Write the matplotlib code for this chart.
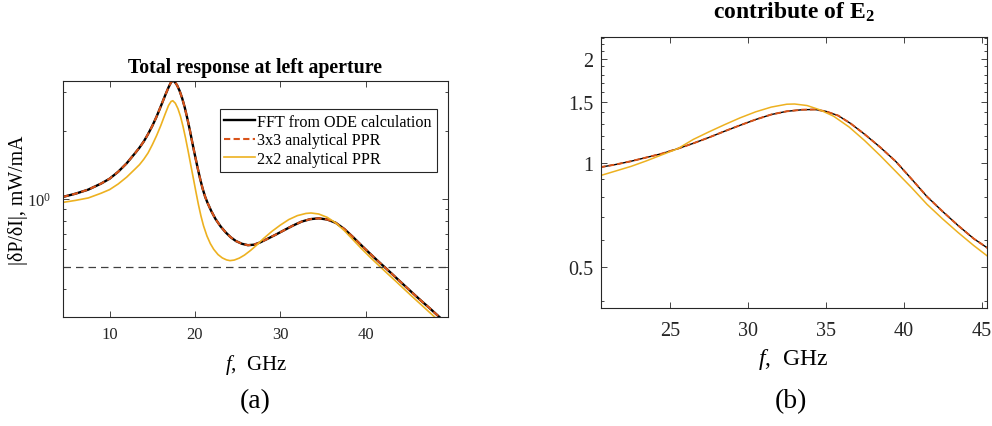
import numpy as np
import matplotlib
matplotlib.use('Agg')
from matplotlib import pyplot as plt
from matplotlib import ticker

plt.rcParams['font.family'] = ['Liberation Serif', 'DejaVu Serif']
plt.rcParams['mathtext.fontset'] = 'custom'
plt.rcParams['mathtext.rm'] = 'Liberation Serif'
plt.rcParams['mathtext.it'] = 'Liberation Serif:italic'
plt.rcParams['mathtext.bf'] = 'Liberation Serif:bold'

# panel (a): total response at left aperture
f_left = [4.5, 6, 7.5, 9, 10, 11, 12, 13, 13.5, 14,
          14.5, 15, 15.5, 16, 16.5, 16.9, 17.2, 17.4, 17.6, 17.9,
          18.2, 18.5, 18.8, 19.1, 19.4, 19.7, 20.0, 20.3, 20.6, 20.9,
          21.2, 21.5, 21.9, 22.4, 23.0, 23.6, 24.2, 24.8, 25.5, 26.2,
          26.9, 27.6, 28.5, 29.5, 30.5, 31.5, 32.5, 33.5, 34.5, 35.5,
          36.5, 37.5, 38.5, 39.5, 40.5, 41.5, 42.5, 43.5, 44.5, 45.5,
          46.5, 47.5, 48.5, 49.6]
fft_left = [1.02, 1.055, 1.1, 1.17, 1.23, 1.32, 1.44, 1.6, 1.69, 1.8,
            1.94, 2.11, 2.32, 2.58, 2.88, 3.13, 3.3, 3.35, 3.32, 3.2,
            3.02, 2.8, 2.55, 2.28, 2.02, 1.77, 1.56, 1.38, 1.23, 1.11,
            1.02, 0.955, 0.885, 0.815, 0.755, 0.71, 0.675, 0.65, 0.632, 0.623,
            0.626, 0.64, 0.665, 0.695, 0.728, 0.762, 0.793, 0.813, 0.82, 0.81,
            0.783, 0.735, 0.678, 0.622, 0.572, 0.527, 0.487, 0.449, 0.414, 0.382,
            0.353, 0.327, 0.302, 0.278]
ppr3_left = list(fft_left)

f2_left = [4.5, 6, 7.5, 9, 10, 11, 12, 13, 13.5, 14,
           14.5, 15, 15.5, 16, 16.5, 16.9, 17.2, 17.4, 17.7, 18.0,
           18.3, 18.6, 18.9, 19.2, 19.5, 19.8, 20.1, 20.4, 20.7, 21.0,
           21.4, 21.8, 22.2, 22.7, 23.2, 23.7, 24.1, 24.6, 25.2, 25.8,
           26.5, 27.2, 28.0, 29.0, 30.0, 31.0, 32.0, 33.0, 33.6, 34.5,
           35.5, 36.5, 37.5, 38.5, 39.5, 40.5, 41.5, 42.5, 43.5, 44.5,
           45.5, 46.5, 47.5, 48.5, 49.6]
ppr2_left = [0.965, 0.985, 1.01, 1.06, 1.1, 1.165, 1.25, 1.36, 1.42, 1.5,
             1.6, 1.74, 1.91, 2.12, 2.38, 2.6, 2.71, 2.73, 2.66, 2.52,
             2.33, 2.1, 1.86, 1.63, 1.42, 1.24, 1.08, 0.945, 0.84, 0.76,
             0.685, 0.633, 0.597, 0.566, 0.547, 0.536, 0.532, 0.535, 0.546, 0.563,
             0.59, 0.622, 0.665, 0.717, 0.765, 0.81, 0.843, 0.862, 0.866, 0.857,
             0.828, 0.782, 0.723, 0.66, 0.602, 0.552, 0.508, 0.468, 0.432, 0.398,
             0.367, 0.339, 0.313, 0.289, 0.266]

level_left = 0.5

# panel (b): contribute of E2
f_right = [20.5, 21.5, 22.5, 23.5, 24.5, 25.5, 26.5, 27.5, 28.5, 29.5, 30.5, 31.5,
           32.5, 33.5, 34.3, 35.0, 35.8, 36.6, 37.5, 38.5, 39.5, 40.5, 41.5, 42.5,
           43.5, 44.5, 45.4]
fft_right = [0.972, 0.99, 1.012, 1.038, 1.065, 1.1, 1.14, 1.185, 1.235, 1.285,
             1.335, 1.38, 1.41, 1.425, 1.427, 1.41, 1.37, 1.3, 1.21, 1.11, 1.01,
             0.9, 0.8, 0.725, 0.66, 0.605, 0.568]
ppr3_right = list(fft_right)

f2_right = [20.5, 21.5, 22.5, 23.5, 24.5, 25.5, 26.5, 27.5, 28.5, 29.5, 30.5, 31.5,
            32.5, 33.0, 33.8, 34.6, 35.5, 36.5, 37.5, 38.5, 39.5, 40.5, 41.5, 42.5,
            43.5, 44.5, 45.4]
ppr2_right = [0.919, 0.948, 0.978, 1.015, 1.057, 1.1, 1.17, 1.23, 1.29, 1.35, 1.405,
              1.45, 1.478, 1.48, 1.465, 1.425, 1.365, 1.27, 1.16, 1.05, 0.945, 0.85,
              0.76, 0.69, 0.63, 0.578, 0.538]

right_ticks = [0.5, 1, 1.5, 2]
right_minor = [0.4, 0.6, 0.7, 0.8, 0.9, 1.1, 1.2, 1.3, 1.4, 1.6, 1.7, 1.8, 1.9,
               2.1, 2.2, 2.3]

labels = ['FFT from ODE calculation', '3x3 analytical PPR', '2x2 analytical PPR']
c_black = 'black'
c_red = '#D95319'
c_yel = '#EDB120'
c_axis = '#262626'

fig = plt.figure(figsize=(9.92, 4.27), dpi=100)
ax1 = fig.add_axes([0.0632, 0.2546, 0.388, 0.554])
ax2 = fig.add_axes([0.6055, 0.2756, 0.389, 0.6347])


def style(ax, size, xpad, ypad):
    for s in ax.spines.values():
        s.set_color(c_axis)
        s.set_linewidth(0.8)
    ax.tick_params(which='both', direction='in', top=True, right=True,
                   colors=c_axis, labelsize=size, width=0.6)
    ax.tick_params(which='major', length=4.5)
    ax.tick_params(which='minor', length=2.5)
    ax.tick_params(axis='x', pad=xpad)
    ax.tick_params(axis='y', pad=ypad)


# (a)
ax1.plot(f_left, fft_left, color=c_black, lw=1.7, label=labels[0])
ax1.plot(f_left, ppr3_left, color=c_red, lw=1.5, ls=(0, (3, 1.6)), label=labels[1])
ax1.plot(f2_left, ppr2_left, color=c_yel, lw=1.2, label=labels[2])
ax1.axhline(level_left, color='#404040', lw=0.9, ls=(0, (6, 4)))
ax1.set_yscale('log')
ax1.set_xlim(4.5, 49.6)
ax1.set_ylim(0.298, 3.35)
ax1.yaxis.set_major_locator(ticker.LogLocator(base=10))
ax1.yaxis.set_minor_locator(ticker.LogLocator(base=10, subs=np.arange(2, 10)))
ax1.yaxis.set_minor_formatter(ticker.NullFormatter())
ax1.set_xticks([10, 20, 30, 40])
style(ax1, 12, 6, 8)
ax1.set_title('Total response at left aperture', fontsize=14.3, fontweight='bold', pad=6.5)
ax1.set_xlabel(r'$f$,  GHz', fontsize=15)
ax1.xaxis.set_label_coords(0.502, -0.147)
ax1.set_ylabel(r'|δP/δI|, mW/mA', fontsize=14.3)
ax1.yaxis.set_label_coords(-0.09, 0.5)
leg = ax1.legend(loc='upper right', bbox_to_anchor=(0.972, 0.88), fontsize=11.6,
                 fancybox=False, edgecolor=c_axis, framealpha=1, borderaxespad=0,
                 handlelength=1.9, handletextpad=0.15, labelspacing=0.15, borderpad=0.3)
leg.get_frame().set_linewidth(0.8)

# (b)
ax2.plot(f_right, fft_right, color=c_black, lw=1.0)
ax2.plot(f_right, ppr3_right, color=c_red, lw=1.4, ls=(0, (3, 1.5)))
ax2.plot(f2_right, ppr2_right, color=c_yel, lw=1.1)
ax2.set_yscale('log')
ax2.set_xlim(20.55, 45.32)
ax2.set_ylim(0.381, 2.305)
ax2.yaxis.set_major_locator(ticker.FixedLocator(right_ticks))
ax2.yaxis.set_major_formatter(ticker.FixedFormatter([str(t) for t in right_ticks]))
ax2.yaxis.set_minor_locator(ticker.FixedLocator(right_minor))
ax2.yaxis.set_minor_formatter(ticker.NullFormatter())
ax2.set_xticks([25, 30, 35, 40, 45])
style(ax2, 14.5, 9, 5.5)
ax2.set_title(r'contribute of $\mathbf{E_2}$', fontsize=17, fontweight='bold', pad=14)
ax2.set_xlabel(r'$f$,  GHz', fontsize=17)
ax2.xaxis.set_label_coords(0.5, -0.139)

fig.text(0.257, 1 - 402 / 427, '(a)', ha='center', va='center', fontsize=20)
fig.text(0.797, 1 - 402 / 427, '(b)', ha='center', va='center', fontsize=20)

fig.savefig('out.png', dpi=100)
